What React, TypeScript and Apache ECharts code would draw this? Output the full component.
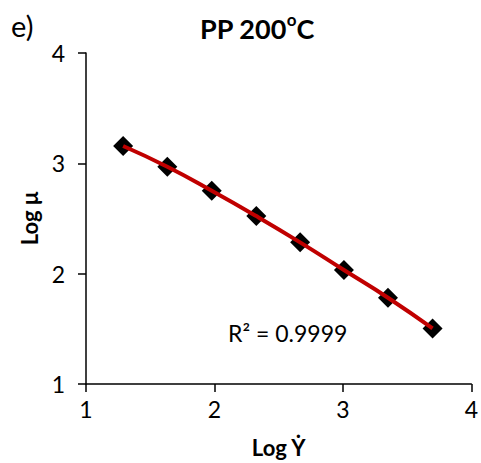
import React, { useEffect, useRef } from "react";
import * as echarts from "echarts";

const logShearRate = [1.289, 1.633, 1.979, 2.326, 2.667, 3.008, 3.351, 3.698];
const logViscosity = [3.157, 2.969, 2.752, 2.522, 2.284, 2.033, 1.782, 1.504];
const axisTicks = [1, 2, 3, 4];
const titleMain = "PP 200";
const titleSup = "o";
const titleEnd = "C";
const panelLabel = "e)";
const r2Label = "R² = 0.9999";
const xName = "Log Ẏ";
const yName = "Log μ";

const FONT = "Lato";

export default function App() {
  const ref = useRef<HTMLDivElement>(null);
  useEffect(() => {
    if (!ref.current) return;
    const chart = echarts.init(ref.current, null, { renderer: "svg" });
    const pts = logShearRate.map((x, i) => [x, logViscosity[i]]);
    chart.setOption({
      animation: false,
      backgroundColor: "#fff",
      textStyle: { fontFamily: FONT },
      title: {
        text: `{a|${titleMain}}{s|${titleSup}}{a|${titleEnd}}`,
        left: 252,
        top: 6,
        textAlign: "center",
        textStyle: {
          rich: {
            a: { fontFamily: FONT, fontWeight: "bold", fontSize: 27, color: "#000", lineHeight: 34 },
            s: { fontFamily: FONT, fontWeight: "bold", fontSize: 17, color: "#000", lineHeight: 34, verticalAlign: "top", padding: [0, 0, 12, 0] },
          },
        },
      },
      grid: { left: 86, right: 9, top: 53, bottom: 79 },
      xAxis: {
        type: "value",
        min: axisTicks[0],
        max: axisTicks[axisTicks.length - 1],
        interval: 1,
        name: xName,
        nameLocation: "middle",
        nameGap: 52,
        nameTextStyle: { fontFamily: FONT, fontWeight: "bold", fontSize: 22, color: "#000" },
        axisLine: { onZero: false, lineStyle: { color: "#000", width: 1.5 } },
        axisTick: { show: true, length: 8, lineStyle: { color: "#000", width: 1.5 } },
        axisLabel: { fontFamily: FONT, fontSize: 23, color: "#000", margin: 13 },
        splitLine: { show: false },
      },
      yAxis: {
        type: "value",
        min: axisTicks[0],
        max: axisTicks[axisTicks.length - 1],
        interval: 1,
        name: yName,
        nameLocation: "middle",
        nameGap: 46,
        nameTextStyle: { fontFamily: FONT, fontWeight: "bold", fontSize: 22, color: "#000" },
        axisLine: { onZero: false, lineStyle: { color: "#000", width: 1.5 } },
        axisTick: { show: true, length: 8, lineStyle: { color: "#000", width: 1.5 } },
        axisLabel: { fontFamily: FONT, fontSize: 23, color: "#000", margin: 21 },
        splitLine: { show: false },
      },
      series: [
        {
          type: "scatter",
          data: pts,
          symbol: "diamond",
          symbolSize: 20,
          itemStyle: { color: "#000", opacity: 1 },
          z: 2,
        },
        {
          type: "line",
          data: pts,
          smooth: true,
          showSymbol: false,
          symbol: "none",
          lineStyle: { color: "#C00000", width: 4 },
          z: 3,
        },
      ],
    });
    const p = chart.convertToPixel({ gridIndex: 0 }, [2.57, 1.466]) as number[];
    chart.setOption({
      graphic: [
        { type: "text", x: 11, y: 25, style: { text: panelLabel, fontFamily: FONT, fontSize: 29, fill: "#000", verticalAlign: "middle" } },
        {
          type: "text",
          x: p[0],
          y: p[1],
          style: { text: r2Label, fontFamily: FONT, fontSize: 23, fill: "#000", align: "center", verticalAlign: "middle" },
        },
      ],
    });
    return () => chart.dispose();
  }, []);
  return <div ref={ref} style={{ width: 481, height: 463, position: "fixed", left: 0, top: 0 }} />;
}
